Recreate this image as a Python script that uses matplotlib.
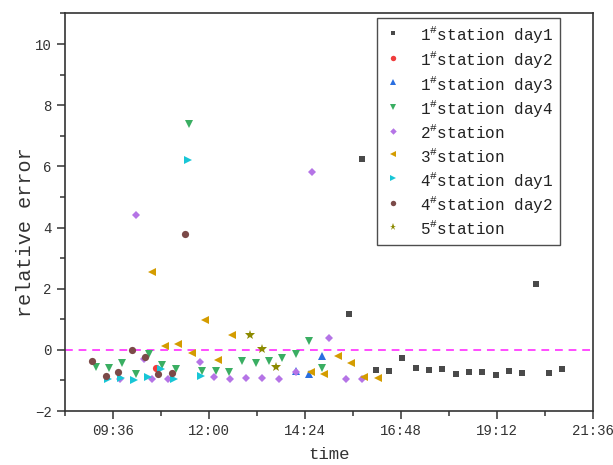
import matplotlib
matplotlib.use("Agg")
import matplotlib.pyplot as plt
from matplotlib.ticker import FixedLocator, FuncFormatter, MultipleLocator

plt.rcParams['font.family'] = ['Liberation Mono', 'DejaVu Sans']
plt.rcParams['mathtext.fontset'] = 'custom'
plt.rcParams['mathtext.rm'] = 'Liberation Mono'
plt.rcParams['mathtext.it'] = 'Liberation Mono'

# ---------------- data ----------------
s1d1_t = ["15:30", "15:50", "16:10", "16:30", "16:50", "17:10", "17:30", "17:50", "18:10",
          "18:30", "18:50", "19:10", "19:30", "19:50", "20:10", "20:30", "20:50"]
s1d1_v = [1.17, 6.23, -0.66, -0.70, -0.27, -0.60, -0.66, -0.63, -0.79,
          -0.73, -0.73, -0.83, -0.70, -0.76, 2.15, -0.76, -0.63]

s1d2_t = ["10:40"]
s1d2_v = [-0.60]

s1d3_t = ["14:10", "14:30", "14:50"]
s1d3_v = [-0.70, -0.80, -0.20]

s1d4_t = ["09:10", "09:30", "09:50", "10:10", "10:30", "10:50", "11:10", "11:30", "11:50",
          "12:10", "12:30", "12:50", "13:10", "13:30", "13:50", "14:10", "14:30", "14:50"]
s1d4_v = [-0.55, -0.61, -0.42, -0.79, -0.15, -0.49, -0.63, 7.40, -0.68,
          -0.68, -0.71, -0.37, -0.42, -0.35, -0.28, -0.15, 0.30, -0.58]

s2_t = ["09:46", "10:10", "10:22", "10:34", "10:58", "11:46", "12:08", "12:32",
        "12:56", "13:20", "13:45", "14:10", "14:35", "15:00", "15:25", "15:50"]
s2_v = [-0.94, 4.40, -0.29, -0.94, -0.94, -0.40, -0.89, -0.95,
        -0.92, -0.93, -0.96, -0.71, 5.83, 0.40, -0.95, -0.96]

s3_t = ["10:35", "10:54", "11:14", "11:34", "11:54", "12:14", "12:34",
        "14:33", "14:53", "15:14", "15:33", "15:53", "16:13"]
s3_v = [2.56, 0.13, 0.20, -0.09, 0.96, -0.32, 0.49,
        -0.73, -0.79, -0.21, -0.44, -0.90, -0.93]

s4d1_t = ["09:29", "09:48", "10:08", "10:28", "10:48", "11:08", "11:28", "11:48"]
s4d1_v = [-0.95, -0.92, -0.98, -0.90, -0.62, -0.95, 6.21, -0.87]

s4d2_t = ["09:05", "09:25", "09:44", "10:04", "10:24", "10:44", "11:04", "11:24"]
s4d2_v = [-0.36, -0.84, -0.73, -0.01, -0.25, -0.79, -0.75, 3.78]

s5_t = ["13:01", "13:20", "13:41"]
s5_v = [0.49, 0.04, -0.56]

labels = [r"1$^{\mathrm{\#}}$station day1", r"1$^{\mathrm{\#}}$station day2",
          r"1$^{\mathrm{\#}}$station day3", r"1$^{\mathrm{\#}}$station day4",
          r"2$^{\mathrm{\#}}$station", r"3$^{\mathrm{\#}}$station",
          r"4$^{\mathrm{\#}}$station day1", r"4$^{\mathrm{\#}}$station day2",
          r"5$^{\mathrm{\#}}$station"]

x_ticks = ["09:36", "12:00", "14:24", "16:48", "19:12", "21:36"]


def to_h(ts):
    out = []
    for s in ts:
        h, m = s.split(":")
        out.append(int(h) + int(m) / 60.0)
    return out


series = [
    (s1d1_t, s1d1_v, 's', '#4a4a4a', 4.4),
    (s1d2_t, s1d2_v, 'o', '#f03c3c', 5.2),
    (s1d3_t, s1d3_v, '^', '#2a6fe0', 6.0),
    (s1d4_t, s1d4_v, 'v', '#3aae62', 6.0),
    (s2_t, s2_v, 'D', '#b574e6', 4.4),
    (s3_t, s3_v, '<', '#d49c00', 6.0),
    (s4d1_t, s4d1_v, '>', '#18c6d6', 6.0),
    (s4d2_t, s4d2_v, 'o', '#7b4a48', 5.2),
    (s5_t, s5_v, '*', '#8c8a00', 7.0),
]

fig = plt.figure(figsize=(6.13, 4.65), dpi=100)
ax = fig.add_axes([65 / 613, 1 - 411 / 465, 528 / 613, 397.5 / 465])

ax.axhline(0, color='#ff4cff', lw=1.4, ls=(0, (4, 3)), zorder=1)

for (t, v, mk, c, ms), lab in zip(series, labels):
    ax.plot(to_h(t), v, linestyle='none', marker=mk, color=c, ms=ms,
            markeredgewidth=0, label=lab, zorder=3)

ax.set_xlim(8.4, 21.6)
ax.set_ylim(-2, 11)
ax.xaxis.set_major_locator(FixedLocator(to_h(x_ticks)))
ax.xaxis.set_major_formatter(FuncFormatter(
    lambda x, p: "%02d:%02d" % (int(round(x * 60)) // 60, int(round(x * 60)) % 60)))
ax.xaxis.set_minor_locator(MultipleLocator(1.2))
ax.yaxis.set_major_locator(MultipleLocator(2))
ax.yaxis.set_minor_locator(MultipleLocator(1))

ax.tick_params(which='major', direction='out', length=5.5, width=1.1, labelsize=10.1, pad=4,
               colors='#333333', labelcolor='#333333')
ax.tick_params(which='minor', direction='out', length=3.5, width=1.1, colors='#333333')
for sp in ax.spines.values():
    sp.set_linewidth(1.2)
    sp.set_color('#333333')

ax.set_xlabel("time", fontsize=12.5, color='#333333', labelpad=6)
ax.set_ylabel("relative error", fontsize=14.5, color='#333333')
ax.yaxis.set_label_coords(-0.056, 0.45)

leg = ax.legend(loc='upper right', bbox_to_anchor=((560 - 65) / 528, (411 - 18) / 397.5),
                borderaxespad=0, fontsize=11.5, frameon=True, fancybox=False,
                edgecolor='#222222', labelspacing=0.23, handlelength=1.2,
                handleheight=1.52, handletextpad=1.1, borderpad=0.4, markerscale=0.75)
leg.get_frame().set_linewidth(1.0)
for txt in leg.get_texts():
    txt.set_color('#222222')

fig.savefig("out.png", dpi=100)
